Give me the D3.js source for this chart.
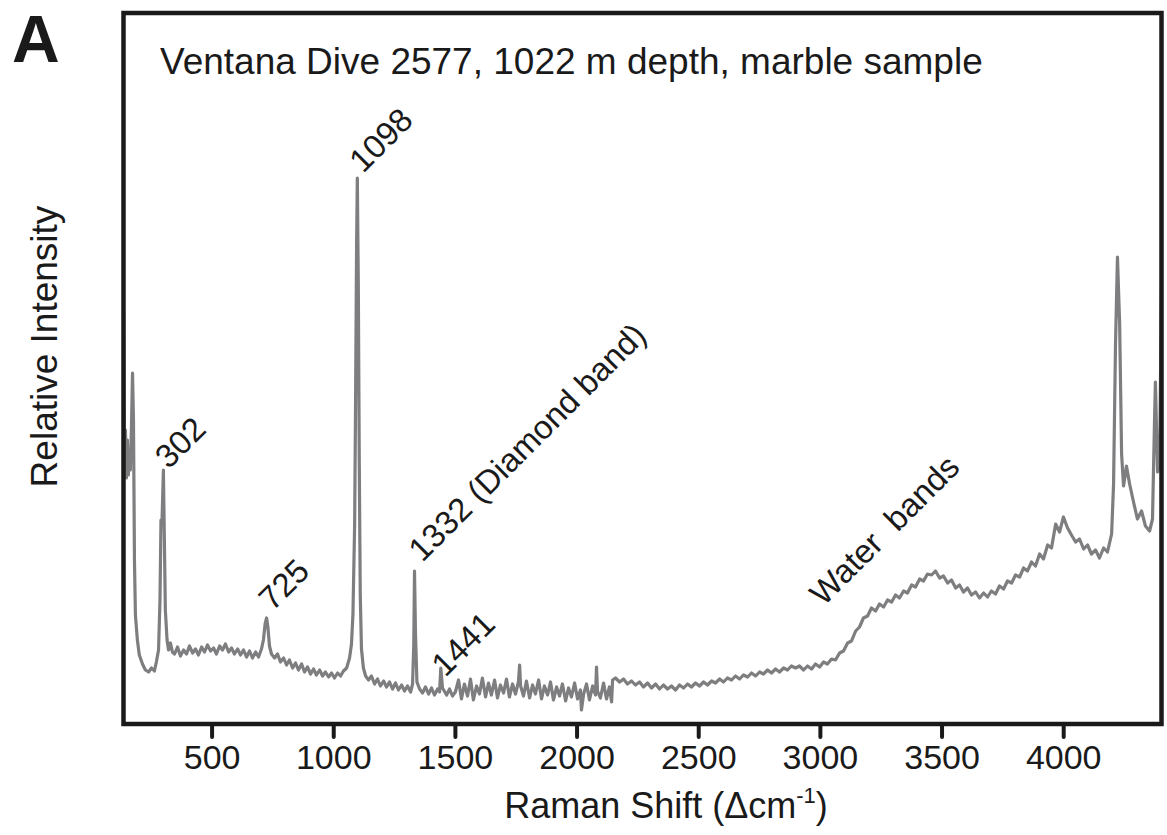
<!DOCTYPE html>
<html>
<head>
<meta charset="utf-8">
<script src="https://cdnjs.cloudflare.com/ajax/libs/d3/7.8.5/d3.min.js"></script>
<style>
  html, body { margin: 0; padding: 0; background: #fff; }
  svg { display: block; font-family: "Liberation Sans", Arial, Helvetica, sans-serif; }
</style>
</head>
<body>
<div id="chart"></div>
<script>
// Raman spectrum (shift in cm-1, intensity in arbitrary units)
const ramanShift = [
  138,142,146,150,154,158,162,166,171,175,179,183,187,195,203,216,228,241,253,265,273,282,288,292,296,302,306,310,317,323,331,339,
  348,360,372,385,397,409,422,434,446,459,471,483,496,508,520,533,545,557,570,582,594,607,619,631,644,656,668,681,693,705,713,720,726,731,738,746,
  759,771,783,796,808,820,833,845,857,870,882,894,907,919,931,944,956,968,981,993,1005,1018,1030,1042,1055,1067,1075,1081,1088,1092,1096,1099,1103,1107,1111,1116,
  1124,1133,1145,1157,1170,1182,1194,1207,1219,1231,1244,1256,1268,1281,1293,1305,1318,1326,1331,1334,1338,1344,1355,1367,1379,1392,1404,1416,1429,1437,1442,1449,1466,1478,1490,
  1502,1515,1527,1539,1552,1564,1576,1589,1601,1613,1626,1638,1650,1663,1675,1687,1700,1712,1724,1737,1749,1761,1766,1770,1782,1794,1807,1819,1831,1844,1856,1868,1881,1893,
  1905,1918,1930,1942,1955,1967,1979,1992,2004,2016,2020,2029,2041,2053,2066,2078,2082,2086,2098,2111,2123,2135,2144,2148,
  2160,2177,2193,2209,2226,2242,2259,2275,2292,2308,2325,2341,2357,2374,2390,2407,2423,2440,2456,2472,2489,2505,2522,2538,2555,2571,2588,2604,2620,2637,2653,2670,2686,2703,2719,2736,2752,2768,2785,2801,2818,2834,2851,2867,2883,2900,
  2916,2933,2949,2966,2982,2999,3015,3031,3048,3064,3081,3097,3114,3130,3147,3163,3179,3196,3212,3229,3245,3262,3278,3295,3311,3327,3344,3360,3377,3393,3410,3426,3442,3459,3475,3492,3508,3525,3541,3558,3574,3590,3607,3623,3640,3656,3673,3689,3705,3722,
  3738,3755,3771,3788,3804,3821,3837,3853,3870,3886,3903,3919,3936,3952,3969,3985,4001,4018,4034,4051,4067,4084,4100,4116,4133,4149,4166,4182,4199,4207,4215,4223,4232,4240,4248,4260,4273,4289,4305,4322,4338,4355,4367,4375,4379,4384,4388,4396,4404
];
const intensity = [
  412,254,294,246,284,249,274,254,300,351,304,164,109,84,69,60,54,52,56,53,62,74,124,204,200,254,184,114,84,74,81,72,
  70,77,68,74,70,78,71,75,69,77,72,79,73,76,70,78,74,80,72,76,70,75,69,74,67,73,66,72,67,75,84,100,106,98,78,70,
  66,70,62,66,59,64,56,61,54,60,52,57,50,55,49,54,48,52,47,51,46,51,48,53,56,66,80,110,200,330,480,546,440,260,130,75,
  56,48,44,48,40,45,38,43,37,42,35,41,34,39,33,38,32,40,80,153,90,42,35,31,37,30,36,29,35,32,56,36,29,35,28,
  32,44,25,40,28,45,24,38,30,46,27,41,29,44,26,39,31,45,27,40,30,42,59,38,28,43,26,39,30,44,25,38,29,42,
  24,37,28,40,23,36,27,41,25,34,14,30,40,24,38,29,57,33,26,41,25,37,22,44,
  46,42,45,40,43,39,42,37,41,36,40,35,39,35,38,34,39,36,40,37,41,38,42,39,43,41,45,42,46,44,48,45,49,47,51,48,52,50,54,51,55,52,56,54,58,56,
  58,54,58,55,60,57,62,60,65,64,71,73,81,83,93,97,106,108,116,113,120,117,124,122,129,126,133,131,139,137,145,143,150,149,153,146,148,141,144,136,139,132,136,129,132,126,131,127,133,130,
  138,135,143,141,149,147,156,153,162,158,170,165,179,176,200,192,207,196,189,182,185,175,179,170,174,166,176,172,190,240,380,467,400,270,238,258,240,222,205,213,198,193,205,300,342,290,252,258,441
];

const xTicks = [500, 1000, 1500, 2000, 2500, 3000, 3500, 4000];

// peak annotations, anchored at [shift, intensity]
const peakNames = ["302", "725", "1098", "1332 (Diamond band)", "1441", "Water  bands"];
const peakAnchorShift = [324, 750, 1122, 1366, 1460, 3015];
const peakAnchorInt = [254, 112, 550, 161, 46, 117];

const panelLetter = "A";
const sampleTitle = "Ventana Dive 2577, 1022 m depth, marble sample";
const yTitle = "Relative Intensity";

const width = 1167;
const height = 835;
const plotLeft = 123.5, plotRight = 1161.5, plotTop = 13, plotBottom = 724;
const ink = "#1a1a1a";
const traceColor = "#7e7e81";

const data = ramanShift.map((s, i) => ({ shift: s, value: intensity[i] }));

const xScale = d3.scaleLinear()
                 .domain([138, 4404])
                 .range([plotLeft, plotRight]);
const yScale = d3.scaleLinear()
                 .domain([0, 711])
                 .range([plotBottom, plotTop]);

const svg = d3.select("#chart")
              .append("svg")
              .attr("width", width)
              .attr("height", height);

svg.append("clipPath").attr("id", "plot-clip")
   .append("rect")
   .attr("x", plotLeft).attr("y", plotTop)
   .attr("width", plotRight - plotLeft).attr("height", plotBottom - plotTop);

// spectrum
const line = d3.line()
               .x((d) => xScale(d.shift))
               .y((d) => yScale(d.value));

svg.append("path")
   .datum(data)
   .attr("clip-path", "url(#plot-clip)")
   .attr("fill", "none")
   .attr("stroke", traceColor)
   .attr("stroke-width", 3.2)
   .attr("stroke-linejoin", "round")
   .attr("d", line);

// x axis with ticks below the frame
const xAxis = d3.axisBottom(xScale)
                .tickValues(xTicks)
                .tickSize(13)
                .tickPadding(8)
                .tickFormat(d3.format("d"));

const gx = svg.append("g")
              .attr("transform", "translate(0," + plotBottom + ")")
              .call(xAxis);
gx.select(".domain").remove();
gx.selectAll(".tick line")
  .attr("stroke", ink)
  .attr("stroke-width", 4)
  .attr("stroke-linecap", "round");
gx.selectAll(".tick text")
  .attr("fill", ink)
  .attr("font-size", "34px")
  .attr("font-family", "Liberation Sans, Arial, sans-serif");

// frame
svg.append("rect")
   .attr("x", plotLeft).attr("y", plotTop)
   .attr("width", plotRight - plotLeft).attr("height", plotBottom - plotTop)
   .attr("fill", "none")
   .attr("stroke", ink)
   .attr("stroke-width", 4.5);

// axis titles
const xt = svg.append("text")
   .attr("x", 666).attr("y", 818)
   .attr("text-anchor", "middle")
   .attr("font-size", "36px")
   .attr("fill", ink)
   .text("Raman Shift (\u0394cm");
xt.append("tspan").attr("dy", -15).attr("font-size", "22px").text("-1");
xt.append("tspan").attr("dy", 15).text(")");

svg.append("text")
   .attr("transform", "translate(57," + ((plotTop + plotBottom) / 2 - 22) + ") rotate(-90)")
   .attr("text-anchor", "middle")
   .attr("font-size", "37px")
   .attr("fill", ink)
   .text(yTitle);

// panel letter and sample title
svg.append("text")
   .attr("x", 12).attr("y", 62)
   .attr("font-size", "66px")
   .attr("font-weight", "bold")
   .attr("fill", ink)
   .text(panelLetter);

svg.append("text")
   .attr("x", 160).attr("y", 74)
   .attr("font-size", "37px")
   .attr("fill", ink)
   .text(sampleTitle);

// rotated peak labels
peakNames.forEach((name, i) => {
    const px = xScale(peakAnchorShift[i]);
    const py = yScale(peakAnchorInt[i]);
    svg.append("text")
       .attr("transform", "translate(" + px + "," + py + ") rotate(-45)")
       .attr("font-size", "33px")
       .attr("fill", ink)
       .style("white-space", "pre")
       .text(name);
});
</script>
</body>
</html>
